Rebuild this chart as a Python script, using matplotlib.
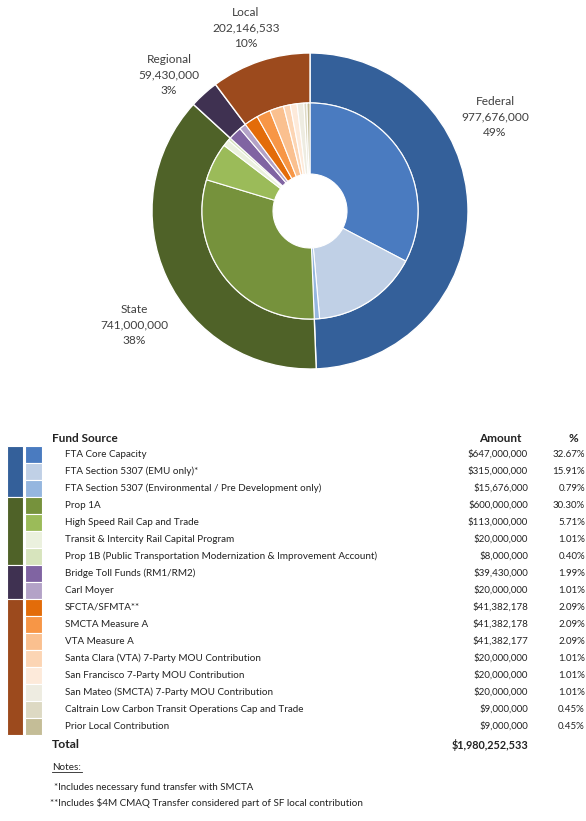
import matplotlib
matplotlib.use('Agg')
import matplotlib.pyplot as plt
from matplotlib.patches import Rectangle

plt.rcParams['font.family'] = ['Lato', 'DejaVu Sans']

# ---- data ----
groups = ['Federal', 'State', 'Regional', 'Local']
group_amounts = [977676000, 741000000, 59430000, 202146533]
group_pcts = ['49%', '38%', '3%', '10%']
group_colors = ['#34609a', '#4f6228', '#3f3151', '#9c4a1d']

sources = ['FTA Core Capacity',
           'FTA Section 5307 (EMU only)*',
           'FTA Section 5307 (Environmental / Pre Development only)',
           'Prop 1A',
           'High Speed Rail Cap and Trade',
           'Transit & Intercity Rail Capital Program',
           'Prop 1B (Public Transportation Modernization & Improvement Account)',
           'Bridge Toll Funds (RM1/RM2)',
           'Carl Moyer',
           'SFCTA/SFMTA**',
           'SMCTA Measure A',
           'VTA Measure A',
           'Santa Clara (VTA) 7-Party MOU Contribution',
           'San Francisco 7-Party MOU Contribution',
           'San Mateo (SMCTA) 7-Party MOU Contribution',
           'Caltrain Low Carbon Transit Operations Cap and Trade',
           'Prior Local Contribution']
amounts = [647000000, 315000000, 15676000, 600000000, 113000000, 20000000,
           8000000, 39430000, 20000000, 41382178, 41382178, 41382177,
           20000000, 20000000, 20000000, 9000000, 9000000]
pcts = ['32.67%', '15.91%', '0.79%', '30.30%', '5.71%', '1.01%', '0.40%',
        '1.99%', '1.01%', '2.09%', '2.09%', '2.09%', '1.01%', '1.01%',
        '1.01%', '0.45%', '0.45%']
source_group = [0, 0, 0, 1, 1, 1, 1, 2, 2, 3, 3, 3, 3, 3, 3, 3, 3]
source_colors = ['#4a7bc0', '#c0d0e6', '#95b6df',
                 '#76923c', '#9bbb59', '#ebf1de', '#d7e4bd',
                 '#8064a2', '#b3a2c7',
                 '#e36c09', '#f79646', '#fac08f', '#fcd5b4', '#fdeada',
                 '#eeece1', '#ddd9c3', '#c4bd97']
total_label = '$1,980,252,533'
notes = ['*Includes necessary fund transfer with SMCTA',
         '**Includes $4M CMAQ Transfer considered part of SF local contribution']

W, H = 586, 821
fig = plt.figure(figsize=(W / 100, H / 100), dpi=100)

# donut: centre (310,211) px, outer radius 158 px
cx, cy, R = 310, 211, 158
ax = fig.add_axes([(cx - R) / W, (H - cy - R) / H, 2 * R / W, 2 * R / H])
ax.pie(group_amounts, radius=1.0, colors=group_colors, startangle=90,
       counterclock=False,
       wedgeprops=dict(width=50 / R, edgecolor='white', linewidth=1.0))
ax.pie(amounts, radius=108 / R, colors=source_colors, startangle=90,
       counterclock=False,
       wedgeprops=dict(width=71 / R, edgecolor='white', linewidth=0.8))
ax.set_xlim(-1, 1)
ax.set_ylim(-1, 1)
ax.set_aspect('equal')
ax.axis('off')

# overlay in pixel coordinates
ov = fig.add_axes([0, 0, 1, 1])
ov.set_xlim(0, W)
ov.set_ylim(H, 0)
ov.axis('off')

lab_pos = [(495, 117), (134, 325), (169, 75), (246, 28)]
for g, (x, y) in enumerate(lab_pos):
    txt = '%s\n%s\n%s' % (groups[g], '{:,}'.format(group_amounts[g]), group_pcts[g])
    ov.text(x, y, txt, ha='center', va='center', fontsize=8.6,
            color='#404040', linespacing=1.5)

# table
tc = '#222222'
row0, rh = 446, 17.0
ov.text(52, 438, 'Fund Source', fontsize=8.5, fontweight='bold', color=tc,
        va='center', ha='left')
ov.text(500, 438, 'Amount', fontsize=8.5, fontweight='bold', color=tc,
        va='center', ha='center')
ov.text(573, 438, '%', fontsize=8.5, fontweight='bold', color=tc,
        va='center', ha='center')

for i, name in enumerate(sources):
    y = row0 + rh * (i + 0.5)
    ov.add_patch(Rectangle((25, row0 + rh * i), 17, rh,
                           facecolor=source_colors[i], edgecolor='white', lw=0.8))
    ov.text(65, y, name, fontsize=7.1, color=tc, va='center', ha='left')
    ov.text(528, y, '${:,}'.format(amounts[i]), fontsize=7.0, color=tc,
            va='center', ha='right')
    ov.text(585, y, pcts[i], fontsize=7.0, color=tc, va='center', ha='right')

# group blocks in left column
start = 0
for g in range(len(groups)):
    n = source_group.count(g)
    ov.add_patch(Rectangle((7, row0 + rh * start), 16, rh * n,
                           facecolor=group_colors[g], edgecolor='white', lw=0.8))
    start += n

ov.text(52, 745, 'Total', fontsize=8.8, fontweight='bold', color=tc,
        va='center', ha='left')
ov.text(528, 745, total_label, fontsize=7.8, fontweight='bold', color=tc,
        va='center', ha='right')

ov.text(52, 767, 'Notes:', fontsize=7.1, color=tc, va='center', ha='left')
ov.plot([52, 82], [772.5, 772.5], color=tc, lw=0.6)
ov.text(54, 787, notes[0], fontsize=7.0, color=tc, va='center', ha='left')
ov.text(50, 803, notes[1], fontsize=7.1, color=tc, va='center', ha='left')

fig.savefig('out.png', dpi=100, facecolor='white')
